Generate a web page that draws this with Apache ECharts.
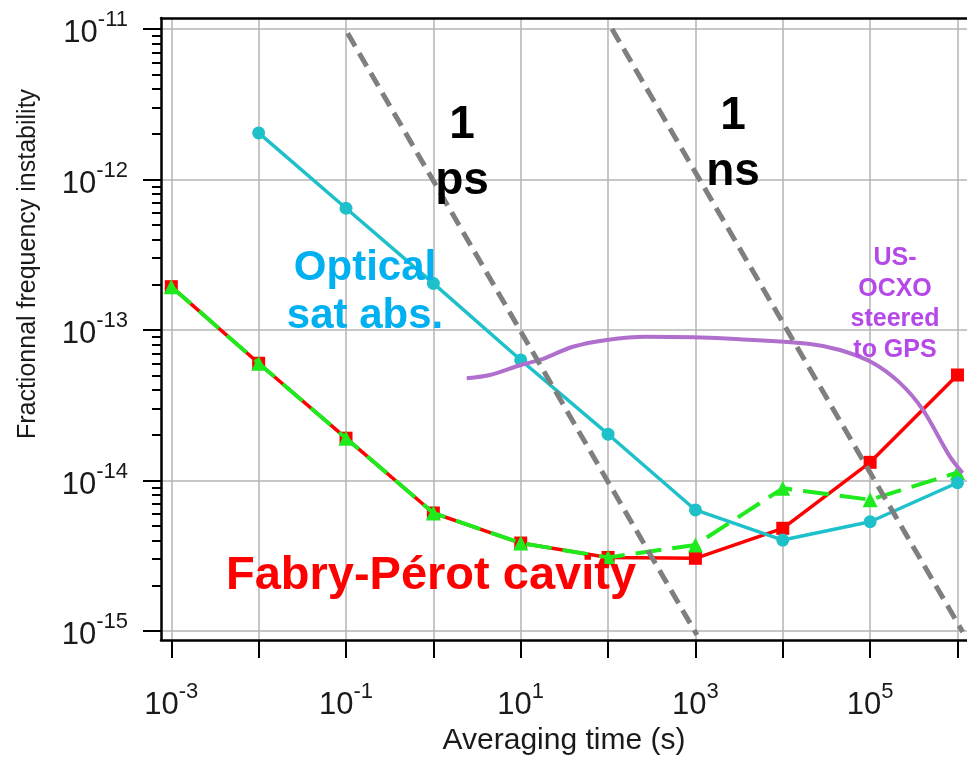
<!DOCTYPE html>
<html><head><meta charset="utf-8">
<script src="https://cdn.jsdelivr.net/npm/echarts@6/dist/echarts.min.js"></script>
<style>html,body{margin:0;padding:0;background:#fff}#c{width:967px;height:759px}</style>
</head><body><div id="c"></div>
<script>
// ---- data ----
const tau = [1e-3, 1e-2, 1e-1, 1, 10, 100, 1e3, 1e4, 1e5, 1e6];
const fabryPerot = [1.94e-13, 6.01e-14, 1.91e-14, 6.08e-15, 3.84e-15, 3.08e-15, 3.04e-15, 4.81e-15, 1.32e-14, 5.02e-14];
const fabryPerotAlt = [1.94e-13, 6.01e-14, 1.91e-14, 6.08e-15, 3.84e-15, 3.08e-15, 3.73e-15, 8.87e-15, 7.45e-15, 1.13e-14];
const opticalTau = [1e-2, 1e-1, 1, 10, 100, 1e3, 1e4, 1e5, 1e6];
const opticalSatAbs = [2.04e-12, 6.44e-13, 2.04e-13, 6.32e-14, 2.03e-14, 6.37e-15, 4.02e-15, 5.32e-15, 9.66e-15];
const ocxoTau = [2.41, 4.45, 10, 16.6, 39.6, 96.4, 277, 937, 3236, 20470, 45170, 107700, 219300, 402600, 820000, 1146000];
const ocxo = [4.78e-14, 5.02e-14, 5.85e-14, 6.32e-14, 7.74e-14, 8.59e-14, 9.03e-14, 8.94e-14, 8.67e-14, 8.07e-14, 7.36e-14, 6.04e-14, 4.45e-14, 2.94e-14, 1.44e-14, 1.12e-14];
const onePsTau = [0.1045, 1042];
const onePs = [9.36e-12, 9.4e-16];
const oneNsTau = [111, 1.15e6];
const oneNs = [1e-11, 9.85e-16];
const xMajorTicks = [1e-3, 1e-2, 1e-1, 1, 10, 100, 1e3, 1e4, 1e5, 1e6];
const xLabelTicks = [1e-3, 1e-1, 10, 1e3, 1e5];
const yMajorTicks = [1e-15, 1e-14, 1e-13, 1e-12, 1e-11];
const yMinorMultipliers = [2, 3, 4, 5, 6, 7, 8, 9];

// ---- build ----
const FONT = 'Liberation Sans, Arial, sans-serif';
const yMinorTicks = [];
yMajorTicks.slice(0, -1).forEach(d => yMinorMultipliers.forEach(m => yMinorTicks.push(+(m * d).toPrecision(3))));
const pairs = (xs, ys) => xs.map((x, i) => [x, ys[i]]);
const xMin = Math.pow(10, -3.118), xMax = Math.pow(10, 6.109);
const yMin = Math.pow(10, -15.06), yMax = Math.pow(10, -10.927);
const powLabel = v => '{b|10}{s|' + Math.round(Math.log10(v)) + '}';
const labelRich = {
  b: { fontSize: 31, fontFamily: FONT, color: '#1a1a1a', lineHeight: 40, verticalAlign: 'bottom' },
  s: { fontSize: 22, fontFamily: FONT, color: '#1a1a1a', verticalAlign: 'top' }
};
const gridLine = { show: true, lineStyle: { color: '#b4b4b4', width: 1.5 } };

const chart = echarts.init(document.getElementById('c'), null, { renderer: 'canvas' });
chart.setOption({
  animation: false,
  backgroundColor: '#fff',
  grid: { left: 161, right: 0, top: 18, bottom: 119, containLabel: false, outerBoundsMode: 'none' },
  xAxis: [{
    type: 'log', min: xMin, max: xMax, position: 'bottom',
    name: 'Averaging time (s)', nameLocation: 'middle', nameGap: 86,
    nameTextStyle: { fontSize: 30, fontFamily: FONT, color: '#1a1a1a' },
    axisLine: { show: true, lineStyle: { color: '#000', width: 2.5 } },
    axisTick: { show: true, inside: false, length: 18, lineStyle: { color: '#000', width: 2 }, customValues: xMajorTicks },
    axisLabel: { show: true, margin: 41, customValues: xLabelTicks, formatter: powLabel, rich: labelRich },
    splitLine: gridLine, minorTick: { show: false }
  }, {
    type: 'log', min: xMin, max: xMax, position: 'top',
    axisLine: { show: true, lineStyle: { color: '#000', width: 2.5 } },
    axisTick: { show: false }, axisLabel: { show: false }, splitLine: { show: false }
  }],
  yAxis: [{
    type: 'log', min: yMin, max: yMax, position: 'left',
    axisLine: { show: true, lineStyle: { color: '#000', width: 2.5 } },
    axisTick: { show: true, inside: false, length: 18, lineStyle: { color: '#000', width: 2 }, customValues: yMajorTicks },
    axisLabel: { show: true, margin: 33, customValues: yMajorTicks, formatter: powLabel, rich: labelRich },
    splitLine: gridLine
  }, {
    type: 'log', min: yMin, max: yMax, position: 'left', offset: 0,
    axisLine: { show: false },
    axisTick: { show: true, inside: false, length: 9, lineStyle: { color: '#000', width: 2 }, customValues: yMinorTicks },
    axisLabel: { show: false }, splitLine: { show: false }
  }],
  series: [
    { name: 'Fabry-Pérot', type: 'line', data: pairs(tau, fabryPerot), symbol: 'rect', symbolSize: 13,
      itemStyle: { color: '#ff0000' }, lineStyle: { color: '#ff0000', width: 3.5 }, z: 3 },
    { name: 'Fabry-Pérot alt', type: 'line', data: pairs(tau, fabryPerotAlt), symbol: 'triangle', symbolSize: 15,
      itemStyle: { color: '#1eea1e' }, lineStyle: { color: '#1eea1e', width: 4, type: [26, 11] }, z: 4 },
    { name: 'Optical sat abs.', type: 'line', data: pairs(opticalTau, opticalSatAbs), symbol: 'circle', symbolSize: 13,
      itemStyle: { color: '#1ec0c9' }, lineStyle: { color: '#1ec0c9', width: 3.5 }, z: 5 },
    { name: 'US-OCXO', type: 'line', data: pairs(ocxoTau, ocxo), symbol: 'none', smooth: 0.3,
      lineStyle: { color: '#b06fcc', width: 4 }, z: 6 },
    { name: '1 ps', type: 'line', data: pairs(onePsTau, onePs), symbol: 'none',
      lineStyle: { color: '#7f7f7f', width: 5, type: [15, 8] }, z: 7 },
    { name: '1 ns', type: 'line', data: pairs(oneNsTau, oneNs), symbol: 'none',
      lineStyle: { color: '#7f7f7f', width: 5, type: [15, 8] }, z: 7 }
  ],
  graphic: [
    { type: 'text', x: 28, y: 264, rotation: Math.PI / 2, z: 10,
      style: { text: 'Fractionnal frequency instability', font: '25px ' + FONT, fill: '#1a1a1a', align: 'center', verticalAlign: 'middle' } },
    { type: 'text', x: 462, y: 97, z: 10,
      style: { text: '1\nps', font: 'bold 46px ' + FONT, lineHeight: 56, fill: '#000', align: 'center', verticalAlign: 'top' } },
    { type: 'text', x: 733, y: 88, z: 10,
      style: { text: '1\nns', font: 'bold 46px ' + FONT, lineHeight: 56, fill: '#000', align: 'center', verticalAlign: 'top' } },
    { type: 'text', x: 365, y: 244, z: 10,
      style: { text: 'Optical\nsat abs.', font: 'bold 42px ' + FONT, lineHeight: 48, fill: '#00b0f0', align: 'center', verticalAlign: 'top' } },
    { type: 'text', x: 431, y: 576, z: 10,
      style: { text: 'Fabry-Pérot cavity', font: 'bold 47px ' + FONT, lineHeight: 50, fill: '#ff0000', align: 'center', verticalAlign: 'middle' } },
    { type: 'text', x: 895, y: 243, z: 10,
      style: { text: 'US-\nOCXO\nsteered\nto GPS', font: 'bold 25px ' + FONT, lineHeight: 30.5, fill: '#b548e8', align: 'center', verticalAlign: 'top' } }
  ]
});
</script></body></html>
